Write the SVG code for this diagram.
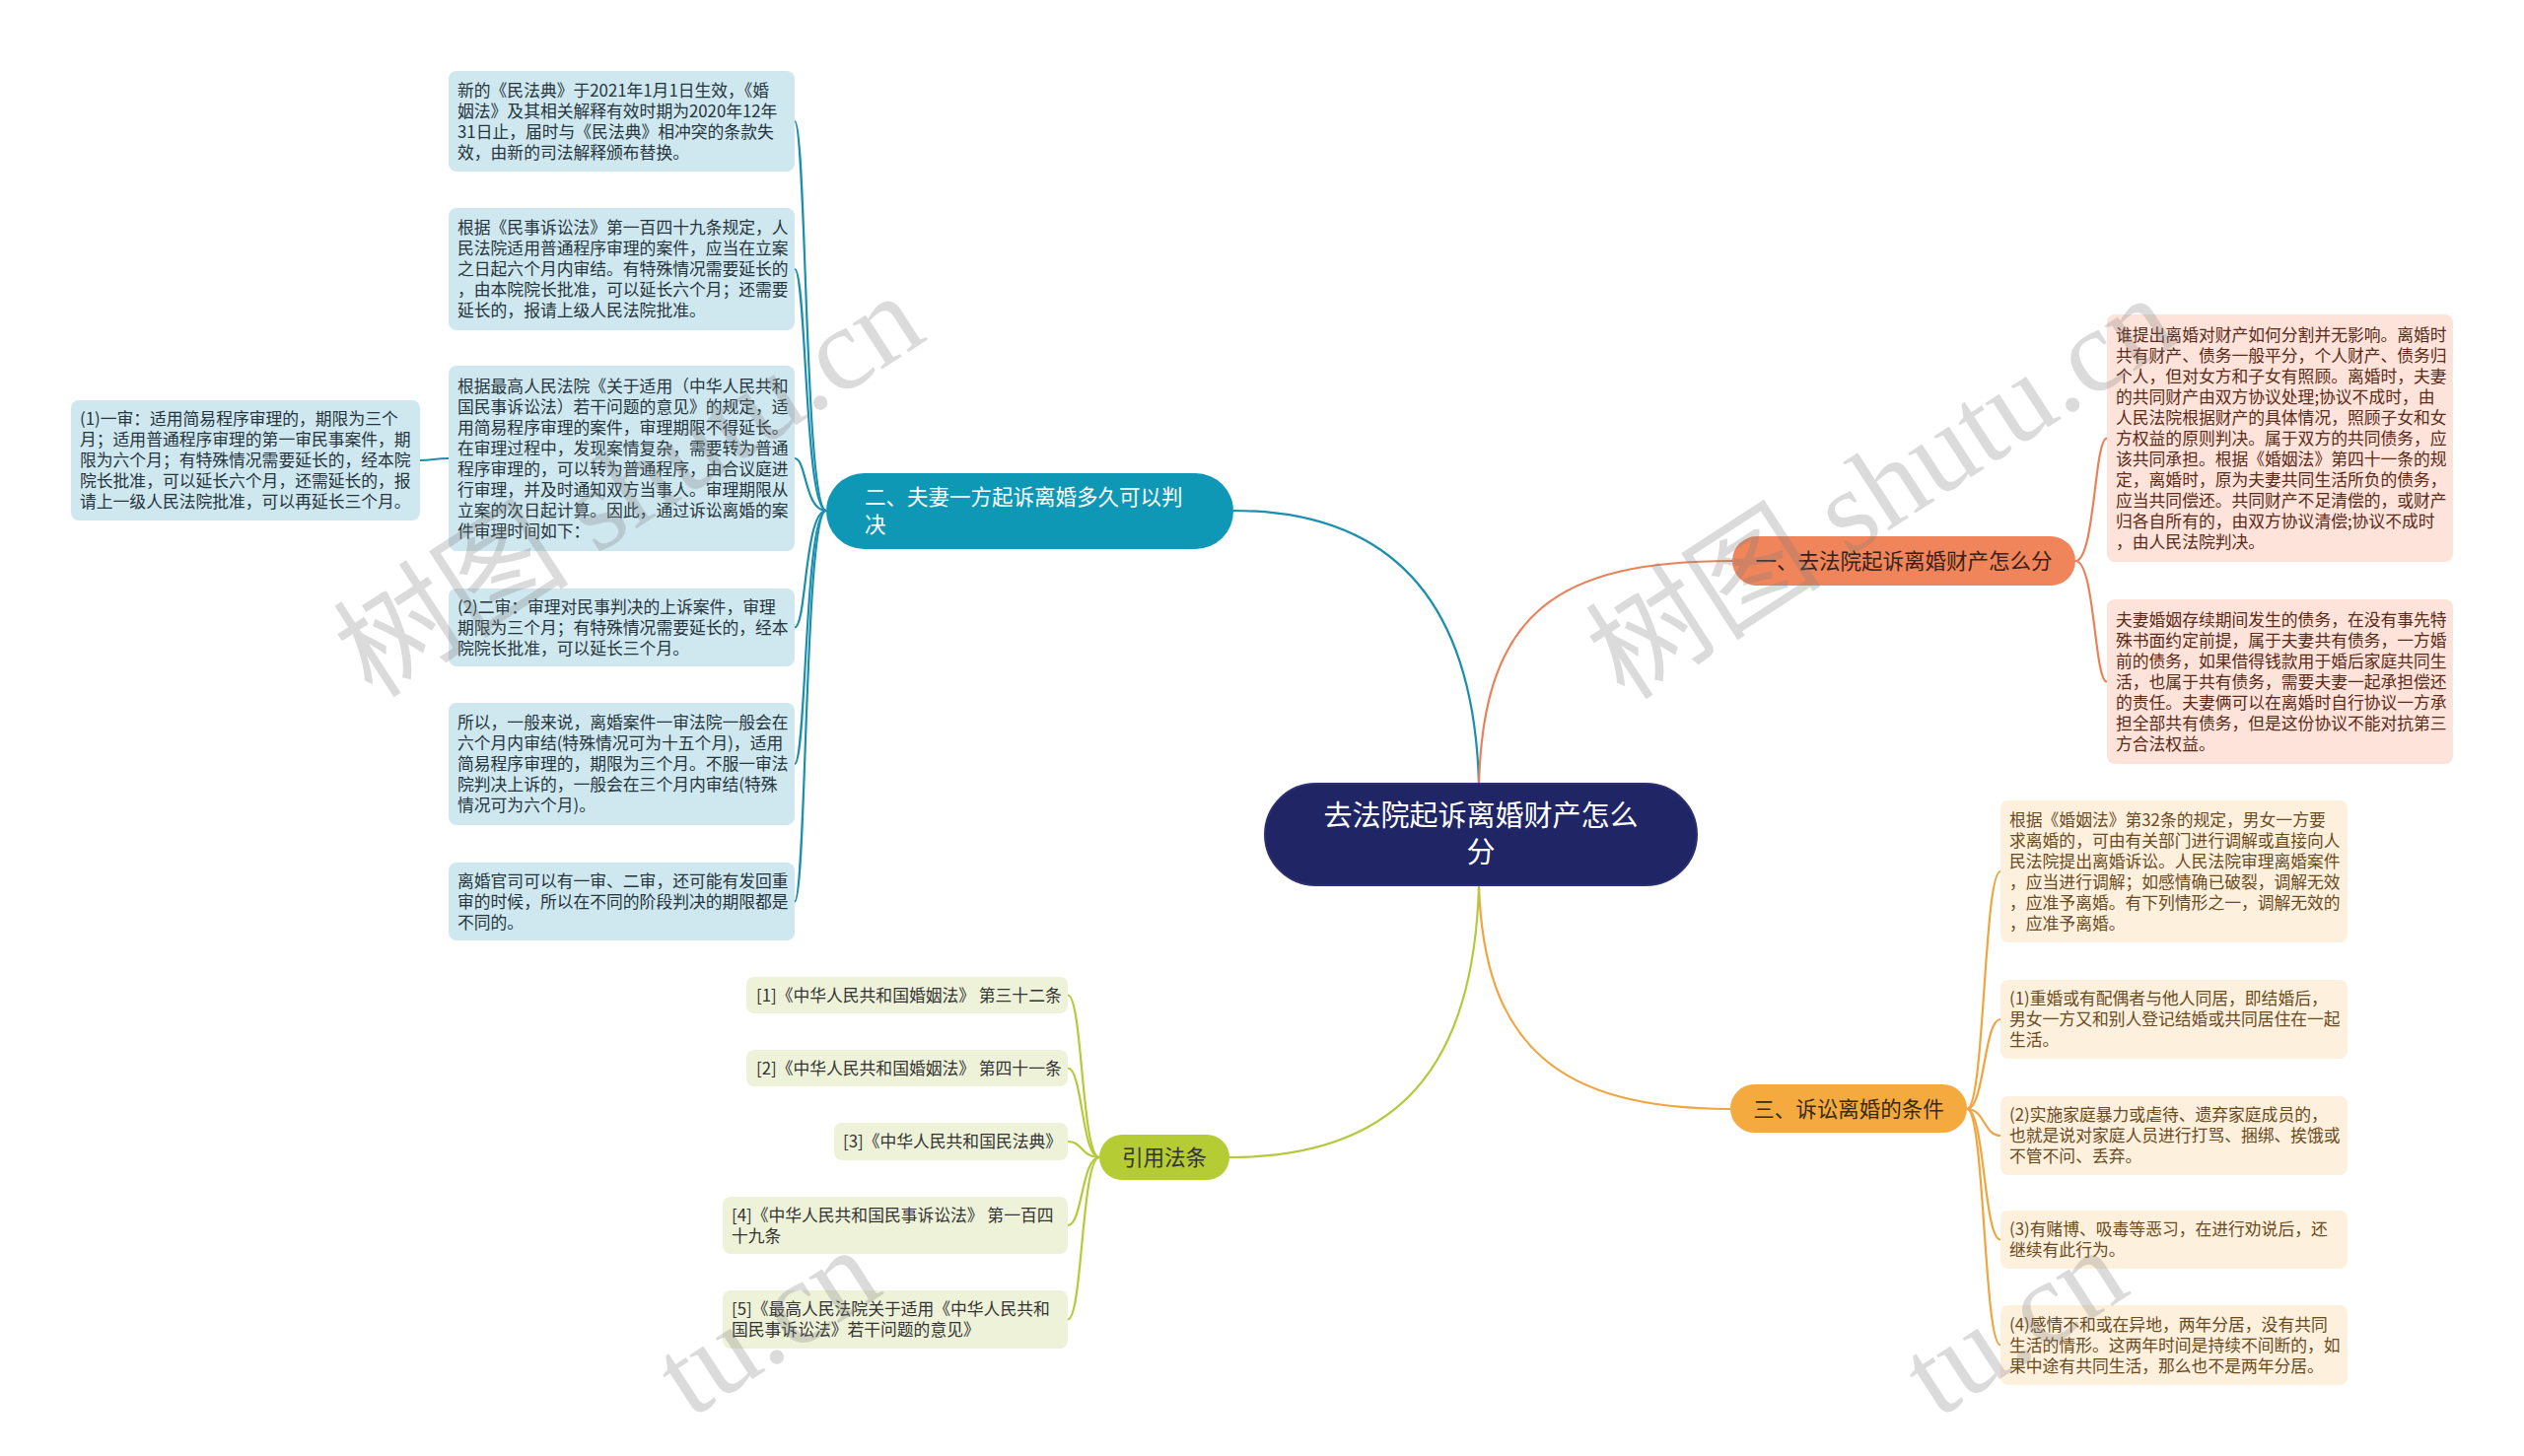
<svg xmlns="http://www.w3.org/2000/svg" width="2560" height="1477" viewBox="0 0 2560 1477">
<style>
text{font-family:"Noto Sans CJK SC","Liberation Sans",sans-serif;}
.leaf{font-size:16.8px;}
.lt{fill:#cfe8ef;}
.lo{fill:#fde3da;}
.ly{fill:#fdf0dc;}
.lg{fill:#eef2d9;}
.tt{fill:#25343d;}
.to{fill:#5c2a17;}
.ty{fill:#6b4a1e;}
.tg{fill:#333333;}
.br{font-size:21.5px;}
.c{fill:none;stroke-width:2.2;}
.ct{stroke:#1a8fae;}
.co{stroke:#e9825a;}
.cy{stroke:#f0a540;}
.cg{stroke:#b5c93a;}
.wm{font-family:"Liberation Serif","Noto Sans CJK SC",serif;font-size:120px;fill:#808080;opacity:0.28;}
</style>
<rect width="2560" height="1477" fill="#ffffff"/>

<g id="connectors">
<path class="c ct" d="M1500,795 C1495,620 1420,518 1251,518" stroke-width="2.6"/>
<path class="c co" d="M1500,795 C1505,620 1580,569 1757,569" stroke-width="2.6"/>
<path class="c cy" d="M1500,898 C1505,1060 1580,1125 1755,1125" stroke-width="2.6"/>
<path class="c cg" d="M1500,898 C1495,1080 1420,1174 1247,1174" stroke-width="2.6"/>
<path class="c ct" d="M838,518 C816,518 818,123 806,123"/>
<path class="c ct" d="M838,518 C816,518 818,273 806,273"/>
<path class="c ct" d="M838,518 C816,518 818,465 806,465"/>
<path class="c ct" d="M838,518 C816,518 818,636.5 806,636.5"/>
<path class="c ct" d="M838,518 C816,518 818,775 806,775"/>
<path class="c ct" d="M838,518 C816,518 818,914.5 806,914.5"/>
<path class="c ct" d="M455,465 C440,465 440,467 426,467"/>
<path class="c co" d="M2105,569 C2125,569 2124,444.5 2137,444.5"/>
<path class="c co" d="M2105,569 C2125,569 2124,691.5 2137,691.5"/>
<path class="c cy" d="M1995,1125 C2013,1125 2012,884 2029,884"/>
<path class="c cy" d="M1995,1125 C2013,1125 2012,1034 2029,1034"/>
<path class="c cy" d="M1995,1125 C2013,1125 2012,1152 2029,1152"/>
<path class="c cy" d="M1995,1125 C2013,1125 2012,1257.5 2029,1257.5"/>
<path class="c cy" d="M1995,1125 C2013,1125 2012,1364.5 2029,1364.5"/>
<path class="c cg" d="M1115,1174 C1097,1174 1098,1009.5 1083,1009.5"/>
<path class="c cg" d="M1115,1174 C1097,1174 1098,1083.5 1083,1083.5"/>
<path class="c cg" d="M1115,1174 C1097,1174 1098,1158 1083,1158"/>
<path class="c cg" d="M1115,1174 C1097,1174 1098,1243 1083,1243"/>
<path class="c cg" d="M1115,1174 C1097,1174 1098,1338.5 1083,1338.5"/>
</g>

<g id="center">
<rect x="1283" y="795" width="438" height="103" rx="51.5" fill="#1f2565" stroke="#2a3070" stroke-width="2"/>
<text x="1502" y="838" font-size="29" fill="#ffffff" text-anchor="middle">去法院起诉离婚财产怎么</text>
<text x="1502" y="875" font-size="29" fill="#ffffff" text-anchor="middle">分</text>
</g>

<g id="branch-2">
<rect x="838" y="480" width="413" height="77" rx="38.5" fill="#0e98b6"/>
<text class="br" x="877" y="511.5" fill="#ffffff">二、夫妻一方起诉离婚多久可以判</text>
<text class="br" x="877" y="539.5" fill="#ffffff">决</text>
</g>

<g id="branch-1">
<rect x="1757" y="544" width="348" height="50" rx="25" fill="#f0845a"/>
<text class="br" x="1931" y="576.5" fill="#3a2218" text-anchor="middle">一、去法院起诉离婚财产怎么分</text>
</g>

<g id="branch-3">
<rect x="1755" y="1100" width="240" height="49" rx="24.5" fill="#f5aa40"/>
<text class="br" x="1875" y="1132.5" fill="#3a2a10" text-anchor="middle">三、诉讼离婚的条件</text>
</g>

<g id="branch-refs">
<rect x="1115" y="1151" width="132" height="46" rx="23" fill="#b6cc34"/>
<text class="br" x="1181" y="1181.5" fill="#333333" text-anchor="middle">引用法条</text>
</g>

<g id="leaf-l1">
<rect class="lt" x="455" y="72" width="351" height="102" rx="8"/>
<text class="leaf tt" x="464" y="97.5"><tspan x="464">新的《民法典》于2021年1月1日生效，《婚</tspan><tspan x="464" dy="21">姻法》及其相关解释有效时期为2020年12年</tspan><tspan x="464" dy="21">31日止，届时与《民法典》相冲突的条款失</tspan><tspan x="464" dy="21">效，由新的司法解释颁布替换。</tspan></text>
</g>

<g id="leaf-l2">
<rect class="lt" x="455" y="211" width="351" height="124" rx="8"/>
<text class="leaf tt" x="464" y="237"><tspan x="464">根据《民事诉讼法》第一百四十九条规定，人</tspan><tspan x="464" dy="21">民法院适用普通程序审理的案件，应当在立案</tspan><tspan x="464" dy="21">之日起六个月内审结。有特殊情况需要延长的</tspan><tspan x="464" dy="21">，由本院院长批准，可以延长六个月；还需要</tspan><tspan x="464" dy="21">延长的，报请上级人民法院批准。</tspan></text>
</g>

<g id="leaf-l3">
<rect class="lt" x="455" y="371" width="351" height="188" rx="8"/>
<text class="leaf tt" x="464" y="397.5"><tspan x="464">根据最高人民法院《关于适用（中华人民共和</tspan><tspan x="464" dy="21">国民事诉讼法）若干问题的意见》的规定，适</tspan><tspan x="464" dy="21">用简易程序审理的案件，审理期限不得延长。</tspan><tspan x="464" dy="21">在审理过程中，发现案情复杂，需要转为普通</tspan><tspan x="464" dy="21">程序审理的，可以转为普通程序，由合议庭进</tspan><tspan x="464" dy="21">行审理，并及时通知双方当事人。审理期限从</tspan><tspan x="464" dy="21">立案的次日起计算。因此，通过诉讼离婚的案</tspan><tspan x="464" dy="21">件审理时间如下：</tspan></text>
</g>

<g id="leaf-l3a">
<rect class="lt" x="72" y="406" width="354" height="122" rx="8"/>
<text class="leaf tt" x="81" y="431"><tspan x="81">(1)一审：适用简易程序审理的，期限为三个</tspan><tspan x="81" dy="21">月；适用普通程序审理的第一审民事案件，期</tspan><tspan x="81" dy="21">限为六个月；有特殊情况需要延长的，经本院</tspan><tspan x="81" dy="21">院长批准，可以延长六个月，还需延长的，报</tspan><tspan x="81" dy="21">请上一级人民法院批准，可以再延长三个月。</tspan></text>
</g>

<g id="leaf-l4">
<rect class="lt" x="455" y="597" width="351" height="79" rx="8"/>
<text class="leaf tt" x="464" y="621.5"><tspan x="464">(2)二审：审理对民事判决的上诉案件，审理</tspan><tspan x="464" dy="21">期限为三个月；有特殊情况需要延长的，经本</tspan><tspan x="464" dy="21">院院长批准，可以延长三个月。</tspan></text>
</g>

<g id="leaf-l5">
<rect class="lt" x="455" y="713" width="351" height="124" rx="8"/>
<text class="leaf tt" x="464" y="739"><tspan x="464">所以，一般来说，离婚案件一审法院一般会在</tspan><tspan x="464" dy="21">六个月内审结(特殊情况可为十五个月)，适用</tspan><tspan x="464" dy="21">简易程序审理的，期限为三个月。不服一审法</tspan><tspan x="464" dy="21">院判决上诉的，一般会在三个月内审结(特殊</tspan><tspan x="464" dy="21">情况可为六个月)。</tspan></text>
</g>

<g id="leaf-l6">
<rect class="lt" x="455" y="875" width="351" height="79" rx="8"/>
<text class="leaf tt" x="464" y="899.5"><tspan x="464">离婚官司可以有一审、二审，还可能有发回重</tspan><tspan x="464" dy="21">审的时候，所以在不同的阶段判决的期限都是</tspan><tspan x="464" dy="21">不同的。</tspan></text>
</g>

<g id="leaf-r1">
<rect class="lo" x="2137" y="319" width="351" height="251" rx="8"/>
<text class="leaf to" x="2146" y="345.5"><tspan x="2146">谁提出离婚对财产如何分割并无影响。离婚时</tspan><tspan x="2146" dy="21">共有财产、债务一般平分，个人财产、债务归</tspan><tspan x="2146" dy="21">个人，但对女方和子女有照顾。离婚时，夫妻</tspan><tspan x="2146" dy="21">的共同财产由双方协议处理;协议不成时，由</tspan><tspan x="2146" dy="21">人民法院根据财产的具体情况，照顾子女和女</tspan><tspan x="2146" dy="21">方权益的原则判决。属于双方的共同债务，应</tspan><tspan x="2146" dy="21">该共同承担。根据《婚姻法》第四十一条的规</tspan><tspan x="2146" dy="21">定，离婚时，原为夫妻共同生活所负的债务，</tspan><tspan x="2146" dy="21">应当共同偿还。共同财产不足清偿的，或财产</tspan><tspan x="2146" dy="21">归各自所有的，由双方协议清偿;协议不成时</tspan><tspan x="2146" dy="21">，由人民法院判决。</tspan></text>
</g>

<g id="leaf-r2">
<rect class="lo" x="2137" y="608" width="351" height="167" rx="8"/>
<text class="leaf to" x="2146" y="634.5"><tspan x="2146">夫妻婚姻存续期间发生的债务，在没有事先特</tspan><tspan x="2146" dy="21">殊书面约定前提，属于夫妻共有债务，一方婚</tspan><tspan x="2146" dy="21">前的债务，如果借得钱款用于婚后家庭共同生</tspan><tspan x="2146" dy="21">活，也属于共有债务，需要夫妻一起承担偿还</tspan><tspan x="2146" dy="21">的责任。夫妻俩可以在离婚时自行协议一方承</tspan><tspan x="2146" dy="21">担全部共有债务，但是这份协议不能对抗第三</tspan><tspan x="2146" dy="21">方合法权益。</tspan></text>
</g>

<g id="leaf-y1">
<rect class="ly" x="2029" y="812" width="352" height="144" rx="8"/>
<text class="leaf ty" x="2038" y="837.5"><tspan x="2038">根据《婚姻法》第32条的规定，男女一方要</tspan><tspan x="2038" dy="21">求离婚的，可由有关部门进行调解或直接向人</tspan><tspan x="2038" dy="21">民法院提出离婚诉讼。人民法院审理离婚案件</tspan><tspan x="2038" dy="21">，应当进行调解；如感情确已破裂，调解无效</tspan><tspan x="2038" dy="21">，应准予离婚。有下列情形之一，调解无效的</tspan><tspan x="2038" dy="21">，应准予离婚。</tspan></text>
</g>

<g id="leaf-y2">
<rect class="ly" x="2029" y="994" width="352" height="80" rx="8"/>
<text class="leaf ty" x="2038" y="1019"><tspan x="2038">(1)重婚或有配偶者与他人同居，即结婚后，</tspan><tspan x="2038" dy="21">男女一方又和别人登记结婚或共同居住在一起</tspan><tspan x="2038" dy="21">生活。</tspan></text>
</g>

<g id="leaf-y3">
<rect class="ly" x="2029" y="1112" width="352" height="80" rx="8"/>
<text class="leaf ty" x="2038" y="1137"><tspan x="2038">(2)实施家庭暴力或虐待、遗弃家庭成员的，</tspan><tspan x="2038" dy="21">也就是说对家庭人员进行打骂、捆绑、挨饿或</tspan><tspan x="2038" dy="21">不管不问、丢弃。</tspan></text>
</g>

<g id="leaf-y4">
<rect class="ly" x="2029" y="1228" width="352" height="59" rx="8"/>
<text class="leaf ty" x="2038" y="1253"><tspan x="2038">(3)有赌博、吸毒等恶习，在进行劝说后，还</tspan><tspan x="2038" dy="21">继续有此行为。</tspan></text>
</g>

<g id="leaf-y5">
<rect class="ly" x="2029" y="1324" width="352" height="81" rx="8"/>
<text class="leaf ty" x="2038" y="1349.5"><tspan x="2038">(4)感情不和或在异地，两年分居，没有共同</tspan><tspan x="2038" dy="21">生活的情形。这两年时间是持续不间断的，如</tspan><tspan x="2038" dy="21">果中途有共同生活，那么也不是两年分居。</tspan></text>
</g>

<g id="leaf-g1">
<rect class="lg" x="757" y="991" width="326" height="37" rx="8"/>
<text class="leaf tg" x="767" y="1015.5">[1]《中华人民共和国婚姻法》 第三十二条</text>
</g>
<g id="leaf-g2">
<rect class="lg" x="757" y="1065" width="326" height="37" rx="8"/>
<text class="leaf tg" x="767" y="1089.5">[2]《中华人民共和国婚姻法》 第四十一条</text>
</g>
<g id="leaf-g3">
<rect class="lg" x="846" y="1139" width="237" height="38" rx="8"/>
<text class="leaf tg" x="855" y="1164">[3]《中华人民共和国民法典》</text>
</g>
<g id="leaf-g4">
<rect class="lg" x="733" y="1214" width="350" height="58" rx="8"/>
<text class="leaf tg" x="742" y="1238.5"><tspan x="742">[4]《中华人民共和国民事诉讼法》 第一百四</tspan><tspan x="742" dy="21">十九条</tspan></text>
</g>
<g id="leaf-g5">
<rect class="lg" x="733" y="1309" width="350" height="59" rx="8"/>
<text class="leaf tg" x="742" y="1334"><tspan x="742">[5]《最高人民法院关于适用《中华人民共和</tspan><tspan x="742" dy="21">国民事诉讼法》若干问题的意见》</tspan></text>
</g>

<g id="watermarks">
<text class="wm" transform="translate(378,710) rotate(-33)">树图 shutu.cn</text>
<text class="wm" transform="translate(1648,712) rotate(-33)">树图 shutu.cn</text>
<text class="wm" transform="translate(700,1440) rotate(-33)">tu.cn</text>
<text class="wm" transform="translate(1965,1440) rotate(-33)">tu.cn</text>
</g>
</svg>
